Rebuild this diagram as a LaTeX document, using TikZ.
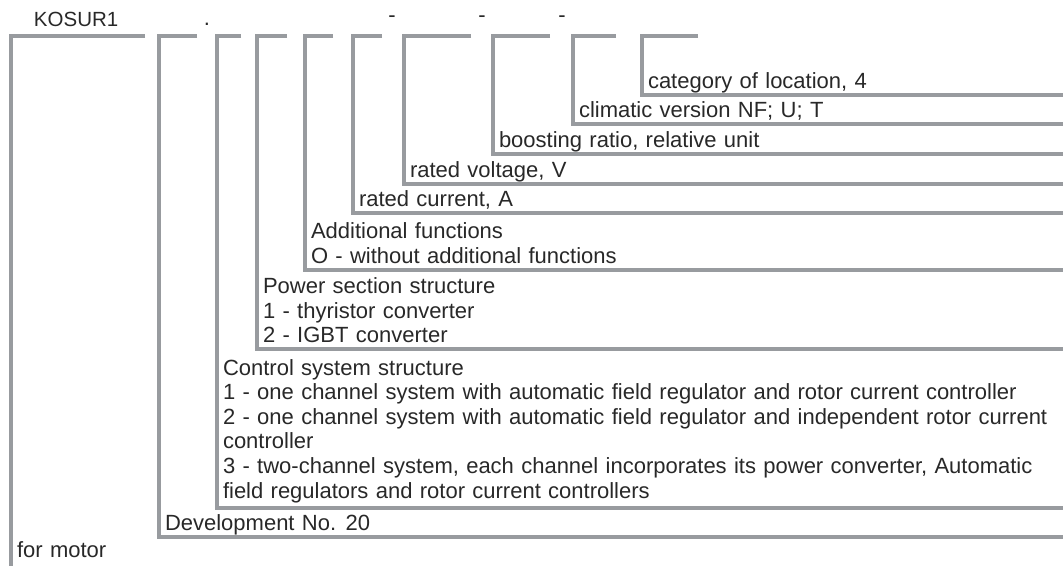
\documentclass[tikz,border=0pt]{standalone}
\usepackage{fontspec}
\setmainfont[WordSpace=1.2]{Liberation Sans}
\definecolor{linegray}{RGB}{152,155,159}
\definecolor{txt}{RGB}{40,40,40}
\tikzset{
  br/.style={draw=linegray, line width=3.6pt, line join=miter},
  lbl/.style={anchor=base west, inner sep=0pt, outer sep=0pt, text=txt, font=\fontsize{22}{26}\selectfont},
  sepmark/.style={anchor=base, inner sep=0pt, outer sep=0pt, text=txt, font=\fontsize{22}{26}\selectfont},
}
\begin{document}
\begin{tikzpicture}[x=1pt,y=-1pt]
\useasboundingbox (0,0) rectangle (1063,566);

% header
\node[lbl, font=\fontsize{20.5}{24}\selectfont] (code) at (34,26) {KOSUR1};
\node[sepmark] (dot) at (207,25) {.};
\node[sepmark] (d1) at (392,22) {-};
\node[sepmark] (d2) at (482,22) {-};
\node[sepmark] (d3) at (562,22) {-};

% bracket 1: for motor
\coordinate (b1t) at (145,36); \coordinate (b1c) at (11,36); \coordinate (b1b) at (11,566);
\draw[br] (b1t) -- (b1c) -- (b1b);
% bracket 2: development
\coordinate (b2t) at (197,36); \coordinate (b2c) at (159,36); \coordinate (b2b) at (159,537); \coordinate (b2r) at (1063,537);
\draw[br] (b2t) -- (b2c) -- (b2b) -- (b2r);
% bracket 3: control system
\coordinate (b3t) at (241,36); \coordinate (b3c) at (217,36); \coordinate (b3b) at (217,508); \coordinate (b3r) at (1063,508);
\draw[br] (b3t) -- (b3c) -- (b3b) -- (b3r);
% bracket 4: power section
\coordinate (b4t) at (287,36); \coordinate (b4c) at (257,36); \coordinate (b4b) at (257,349); \coordinate (b4r) at (1063,349);
\draw[br] (b4t) -- (b4c) -- (b4b) -- (b4r);
% bracket 5: additional functions
\coordinate (b5t) at (333,36); \coordinate (b5c) at (305,36); \coordinate (b5b) at (305,270); \coordinate (b5r) at (1063,270);
\draw[br] (b5t) -- (b5c) -- (b5b) -- (b5r);
% bracket 6: rated current
\coordinate (b6t) at (382,36); \coordinate (b6c) at (353,36); \coordinate (b6b) at (353,213); \coordinate (b6r) at (1063,213);
\draw[br] (b6t) -- (b6c) -- (b6b) -- (b6r);
% bracket 7: rated voltage
\coordinate (b7t) at (471,36); \coordinate (b7c) at (404,36); \coordinate (b7b) at (404,184); \coordinate (b7r) at (1063,184);
\draw[br] (b7t) -- (b7c) -- (b7b) -- (b7r);
% bracket 8: boosting ratio
\coordinate (b8t) at (550,36); \coordinate (b8c) at (493,36); \coordinate (b8b) at (493,154); \coordinate (b8r) at (1063,154);
\draw[br] (b8t) -- (b8c) -- (b8b) -- (b8r);
% bracket 9: climatic version
\coordinate (b9t) at (616,36); \coordinate (b9c) at (573,36); \coordinate (b9b) at (573,124); \coordinate (b9r) at (1063,124);
\draw[br] (b9t) -- (b9c) -- (b9b) -- (b9r);
% bracket 10: category of location
\coordinate (b10t) at (698,36); \coordinate (b10c) at (642,36); \coordinate (b10b) at (642,95); \coordinate (b10r) at (1063,95);
\draw[br] (b10t) -- (b10c) -- (b10b) -- (b10r);

% labels
\node[lbl] (cat) at (648,88) {category of location, 4};
\node[lbl] (clim) at (579,117) {climatic version NF; U; T};
\node[lbl] (boost) at (499,147) {boosting ratio, relative unit};
\node[lbl] (volt) at (410,177) {rated voltage, V};
\node[lbl] (curr) at (359,206) {rated current, A};
\node[lbl] (add1) at (311,238) {Additional functions};
\node[lbl] (add2) at (311,263) {O - without additional functions};
\node[lbl] (pow1) at (263,293) {Power section structure};
\node[lbl] (pow2) at (263,318) {1 - thyristor converter};
\node[lbl] (pow3) at (263,342) {2 - IGBT converter};
\node[lbl] (ctl1) at (223,375) {Control system structure};
\node[lbl] (ctl2) at (223,399.6) {1 - one channel system with automatic field regulator and rotor current controller};
\node[lbl] (ctl3) at (223,424.2) {2 - one channel system with automatic field regulator and independent rotor current};
\node[lbl] (ctl4) at (223,448.8) {controller};
\node[lbl] (ctl5) at (223,473.4) {3 - two-channel system, each channel incorporates its power converter, Automatic};
\node[lbl] (ctl6) at (223,498) {field regulators and rotor current controllers};
\node[lbl] (dev) at (165,530) {Development No. 20};
\node[lbl] (motor) at (17,557) {for motor};
\end{tikzpicture}
\end{document}
